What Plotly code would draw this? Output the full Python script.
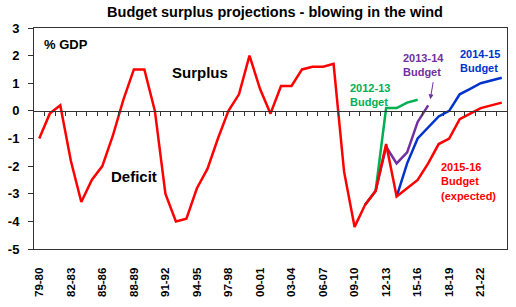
import plotly.graph_objects as go

categories = ["79-80", "80-81", "81-82", "82-83", "83-84", "84-85", "85-86", "86-87", "87-88", "88-89",
              "89-90", "90-91", "91-92", "92-93", "93-94", "94-95", "95-96", "96-97", "97-98", "98-99",
              "99-00", "00-01", "01-02", "02-03", "03-04", "04-05", "05-06", "06-07", "07-08", "08-09",
              "09-10", "10-11", "11-12", "12-13", "13-14", "14-15", "15-16", "16-17", "17-18", "18-19",
              "19-20", "20-21", "21-22", "22-23", "23-24"]

# Actual outcomes + 2015-16 Budget (expected)
actual_2015_16 = [-1.0, -0.1, 0.2, -1.8, -3.3, -2.5, -2.0, -0.9, 0.4, 1.5,
                  1.5, 0.0, -3.0, -4.0, -3.9, -2.8, -2.1, -1.0, 0.0, 0.6,
                  2.0, 0.8, -0.1, 0.9, 0.9, 1.5, 1.6, 1.6, 1.7, -2.2,
                  -4.2, -3.4, -2.9, -1.2, -3.1, -2.8, -2.5, -1.9, -1.2, -1.0,
                  -0.3, -0.1, 0.1, 0.2, 0.3]
budget_2012_13 = [None] * 31 + [-3.4, -2.9, 0.1, 0.1, 0.3, 0.4] + [None] * 8
budget_2013_14 = [None] * 31 + [-3.4, -2.9, -1.3, -1.9, -1.5, -0.4, 0.2] + [None] * 7
budget_2014_15 = [None] * 34 + [-3.1, -1.9, -1.0, -0.6, -0.2, 0.0, 0.6, 0.8, 1.0, 1.1, 1.2]

label_step = 3
y_ticks = [-5, -4, -3, -2, -1, 0, 1, 2, 3]

RED = "#FF0000"
GREEN = "#00B050"
PURPLE = "#7030A0"
BLUE = "#0033CC"
FONT = "Liberation Sans, Arial, sans-serif"

idx = list(range(len(categories)))

fig = go.Figure()
for vals, col in [(budget_2012_13, GREEN), (budget_2014_15, BLUE), (budget_2013_14, PURPLE), (actual_2015_16, RED)]:
    fig.add_trace(go.Scatter(x=idx, y=vals, mode="lines", line=dict(color=col, width=2.5),
                             showlegend=False, hoverinfo="skip", connectgaps=False))

# dummy trace to activate the zero-line category axis
fig.add_trace(go.Scatter(x=[None], y=[None], xaxis="x2", yaxis="y", showlegend=False, hoverinfo="skip"))

xr = [-0.5, len(categories) - 0.5]
yr = [-5, 3]

fig.update_layout(
    width=516, height=307,
    margin=dict(l=33, r=8, t=28, b=58),
    paper_bgcolor="white", plot_bgcolor="white",
    font=dict(family=FONT, color="black"),
    title=dict(text="<b>Budget surplus projections - blowing in the wind</b>",
               x=0.533, xanchor="center", y=1 - 12 / 307, yanchor="middle",
               font=dict(size=14.5, family=FONT, color="black")),
    xaxis=dict(range=xr, showgrid=False, zeroline=False, showline=True, mirror=True,
               linecolor="#333333", linewidth=1,
               tickvals=idx[::label_step], ticktext=["<b>%s</b>" % c for c in categories[::label_step]],
               tickangle=-90, ticks="", ticklabelstandoff=13,
               tickfont=dict(size=11.5, family=FONT, color="black")),
    xaxis2=dict(range=xr, overlaying="x", anchor="free",
                position=(0 - yr[0]) / (yr[1] - yr[0]),
                showgrid=False, zeroline=False, showline=True, linecolor="#333333", linewidth=1,
                ticks="outside", ticklen=4, tickcolor="#333333", tickwidth=1,
                tickvals=[i + 0.5 for i in idx[:-1]], showticklabels=False),
    yaxis=dict(range=yr, showgrid=False, zeroline=False, showline=True, mirror=True,
               linecolor="#333333", linewidth=1,
               tickvals=y_ticks, ticktext=["<b>%d</b>" % v for v in y_ticks],
               ticks="outside", ticklen=5, tickcolor="#333333", ticklabelstandoff=6,
               tickfont=dict(size=13, family=FONT, color="black")),
)

def ann(x, y, text, color, size=11, xanchor="left"):
    fig.add_annotation(x=x, y=y, xref="x", yref="y", text=text, showarrow=False,
                       xanchor=xanchor, yanchor="middle", align="left",
                       font=dict(size=size, color=color, family=FONT))

ann(0.3, 2.42, "<b>% GDP</b>", "black", size=13)
ann(15.3, 1.38, "<b>Surplus</b>", "black", size=15, xanchor="center")
ann(9.0, -2.39, "<b>Deficit</b>", "black", size=15, xanchor="center")
ann(29.4, 0.59, "<b>2012-13<br>Budget</b>", GREEN)
ann(34.4, 1.66, "<b>2013-14<br>Budget</b>", PURPLE)
ann(39.8, 1.8, "<b>2014-15<br>Budget</b>", BLUE)
ann(38.0, -2.54, "<b>2015-16<br>Budget<br>(expected)</b>", RED)

fig.add_annotation(x=37.2, y=0.42, ax=37.5, ay=1.09, xref="x", yref="y", axref="x", ayref="y",
                   text="", showarrow=True, arrowhead=2, arrowsize=1, arrowwidth=1, arrowcolor=PURPLE)

fig.write_html("out.html")
